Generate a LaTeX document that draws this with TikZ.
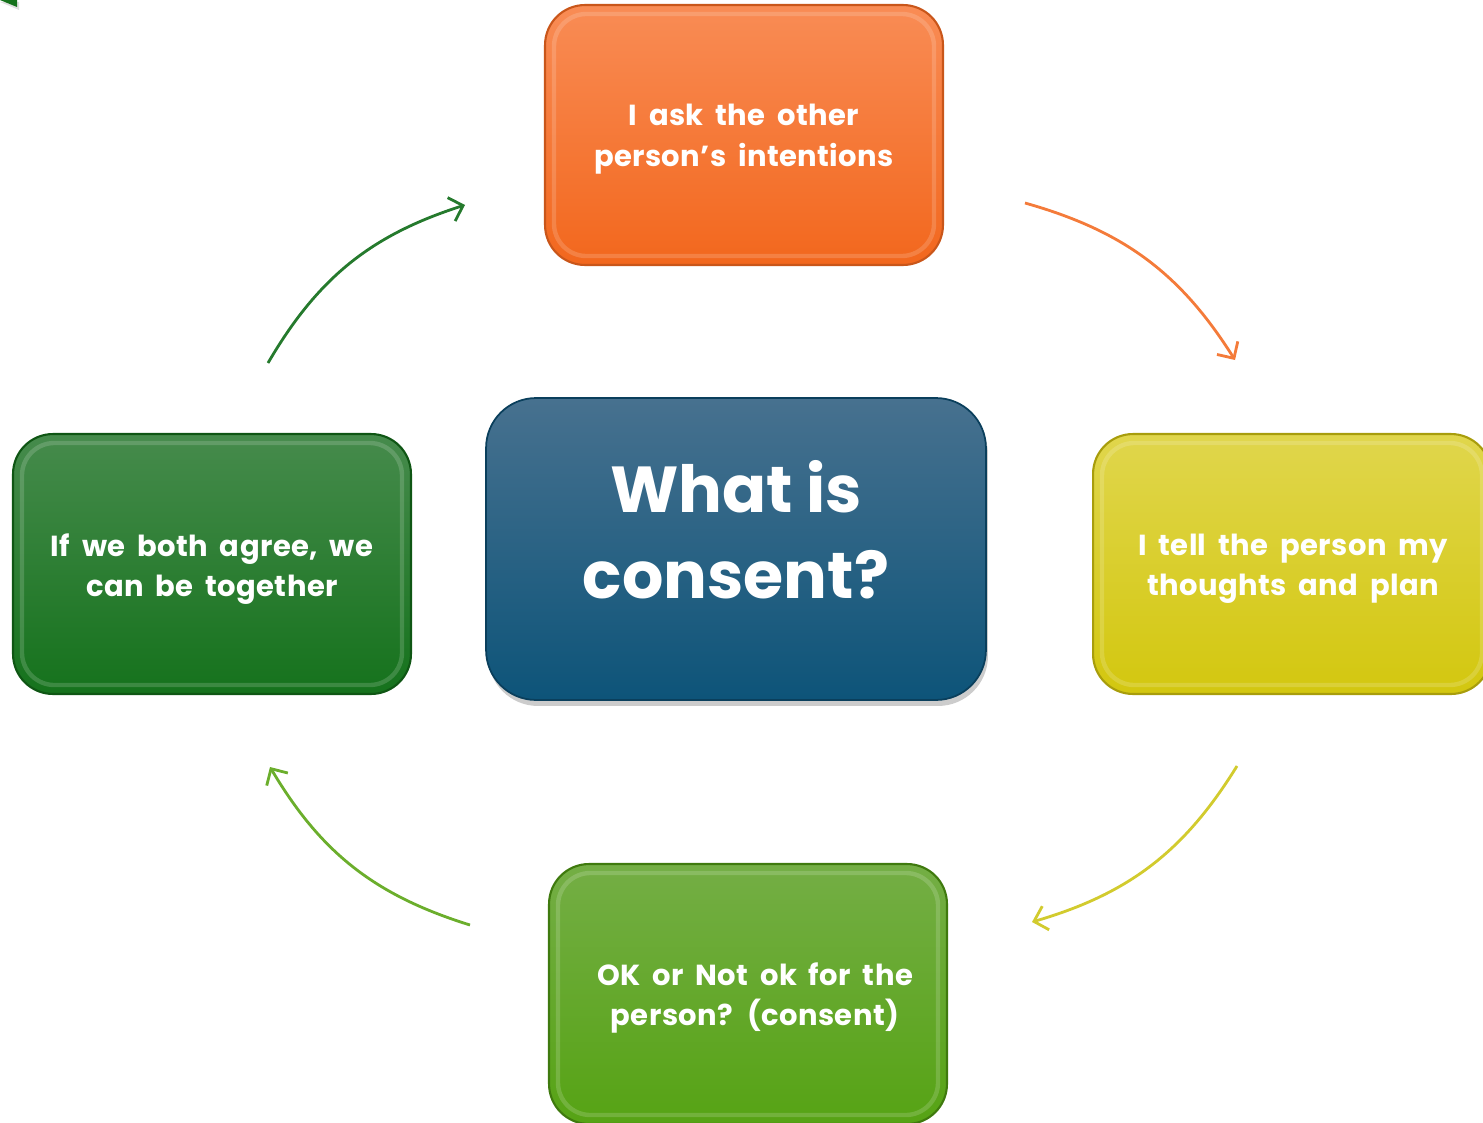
\documentclass[tikz,border=0pt]{standalone}
\usepackage{fontspec}
\setmainfont{Poppins}
\newfontfamily\boxfont{Poppins}[WordSpace=1.8, LetterSpace=1.5]
\usetikzlibrary{arrows.meta,shadows,positioning}
\definecolor{orT}{HTML}{F98C55}
\definecolor{orB}{HTML}{F2671D}
\definecolor{orD}{HTML}{C9561A}
\definecolor{yeT}{HTML}{E0D64C}
\definecolor{yeB}{HTML}{D3C70F}
\definecolor{yeD}{HTML}{A89D0C}
\definecolor{dgT}{HTML}{468B4C}
\definecolor{dgB}{HTML}{15721C}
\definecolor{dgD}{HTML}{0F5614}
\definecolor{lgT}{HTML}{74AE45}
\definecolor{lgB}{HTML}{56A314}
\definecolor{lgD}{HTML}{3F7A0E}
\definecolor{blT}{HTML}{47718F}
\definecolor{blB}{HTML}{0D5479}
\definecolor{blD}{HTML}{0A3F5C}
\definecolor{arO}{HTML}{F47B3A}
\definecolor{arY}{HTML}{D2CB2E}
\definecolor{arL}{HTML}{6BAE2C}
\definecolor{arG}{HTML}{257A2D}
\tikzset{
  cbox/.style={rounded corners=0.8cm, draw, line width=1.2pt, minimum width=7.96cm, minimum height=5.2cm, inner sep=0pt},
  boxtext/.style={text=white, align=center, font=\boxfont\fontsize{16.5}{23}\selectfont\bfseries},
  bevel/.style={white, opacity=0.16, line width=2.5pt, rounded corners=0.65cm},
  centrebox/.style={rounded corners=1cm, draw=blD, line width=1pt, top color=blT, bottom color=blB,
    minimum width=10cm, minimum height=6.04cm, inner sep=0pt,
    drop shadow={opacity=0.4, shadow xshift=0.04cm, shadow yshift=-0.12cm}},
  titletext/.style={text=white, align=center, font=\fontsize{37}{49}\selectfont\bfseries},
  cyc/.style={line width=1.6pt, -{Straight Barb[length=7pt,width=14pt,line width=1.6pt]}}
}
\begin{document}
\begin{tikzpicture}[x=0.02cm,y=-0.02cm]
\useasboundingbox (0,0) rectangle (1483,1122);
\clip (0,0) rectangle (1483,1122);
% corner fragment
\fill[gray, opacity=0.25] (0,2) -- (19,2) -- (19,10) -- cycle;
\fill[dgB] (0,0) -- (17,0) -- (17,7) -- cycle;
% boxes
\node[cbox, top color=orT, bottom color=orB, draw=orD] (ask) at (744,135) {};
\node[cbox, top color=yeT, bottom color=yeB, draw=yeD] (tell) at (1292,564) {};
\node[cbox, top color=lgT, bottom color=lgB, draw=lgD] (ok) at (748,994) {};
\node[cbox, top color=dgT, bottom color=dgB, draw=dgD] (agree) at (212,564) {};
\foreach \b in {ask,tell,ok,agree}{
  \draw[bevel] ([shift={(10,10)}]\b.north west) rectangle ([shift={(-10,-10)}]\b.south east);
}
\node[boxtext] (askt) at (744,139) {I ask the other\\person’s intentions};
\node[boxtext] (tellt) at (1293,569) {I tell the person my\\thoughts and plan};
\node[boxtext] (okt) at (755,998) {OK or Not ok for the\\person? (consent)};
\node[boxtext] (agreet) at (212,569) {If we both agree, we\\can be together};
\node[centrebox] (centre) at (736,549) {};
\node[titletext] (title) at (736,530) {What is\\consent?};
% connectors
\coordinate (o1) at (1025,203); \coordinate (o2) at (1235,360);
\coordinate (y1) at (1237,766); \coordinate (y2) at (1032,922);
\coordinate (l1) at (470,925);  \coordinate (l2) at (270,767);
\coordinate (g1) at (268,363);  \coordinate (g2) at (465,205);
\draw[cyc, arO] (o1) to[bend left=21] (o2);
\draw[cyc, arY] (y1) to[bend left=21] (y2);
\draw[cyc, arL] (l1) to[bend left=21] (l2);
\draw[cyc, arG] (g1) to[bend left=21] (g2);
\end{tikzpicture}
\end{document}
